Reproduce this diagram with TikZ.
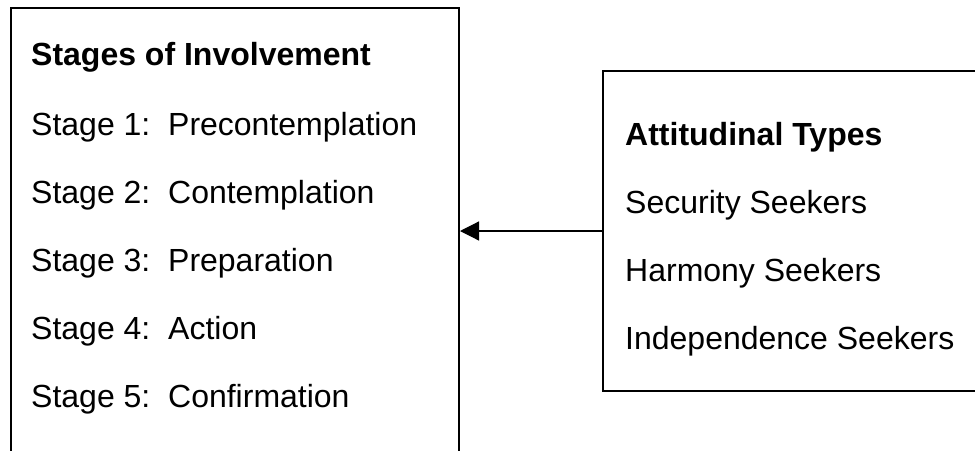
\documentclass[tikz,border=0pt]{standalone}
\usepackage{fontspec}
\setmainfont{Liberation Sans}
\usetikzlibrary{arrows.meta}
\frenchspacing
\tikzset{
  box/.style={draw, line width=2pt, rectangle, anchor=north west, inner sep=0pt},
  entry/.style={anchor=base west, inner sep=0pt, font=\fontsize{32}{38}\selectfont},
  head/.style={entry, font=\fontsize{32}{38}\selectfont\bfseries},
}
\begin{document}
\begin{tikzpicture}[x=1pt,y=-1pt]
            \useasboundingbox (0,0) rectangle (975,450);
            \clip (0,0) rectangle (975,450);
            \node[box, minimum width=448pt, minimum height=500pt] (stages) at (10,7) {};
            \node[box, minimum width=420pt, minimum height=320pt] (types) at (602,70) {};
            \node[head] (stagehead) at (31,65) {Stages of Involvement};
            \node[entry] (stage1) at (31,135) {Stage 1:~ Precontemplation};
            \node[entry] (stage2) at (31,203) {Stage 2:~ Contemplation};
            \node[entry] (stage3) at (31,271) {Stage 3:~ Preparation};
            \node[entry] (stage4) at (31,339) {Stage 4:~ Action};
            \node[entry] (stage5) at (31,407) {Stage 5:~ Confirmation};
            \node[head] (typehead) at (625,145) {Attitudinal Types};
            \node[entry] (security) at (625,213) {Security Seekers};
            \node[entry] (harmony) at (625,281) {Harmony Seekers};
            \node[entry] (independence) at (625,349) {Independence Seekers};
            \draw[line width=1.2pt, -{Triangle[length=19pt,width=19pt]}] (types.west) -- (types.west -| stages.east);
        \end{tikzpicture}
\end{document}
